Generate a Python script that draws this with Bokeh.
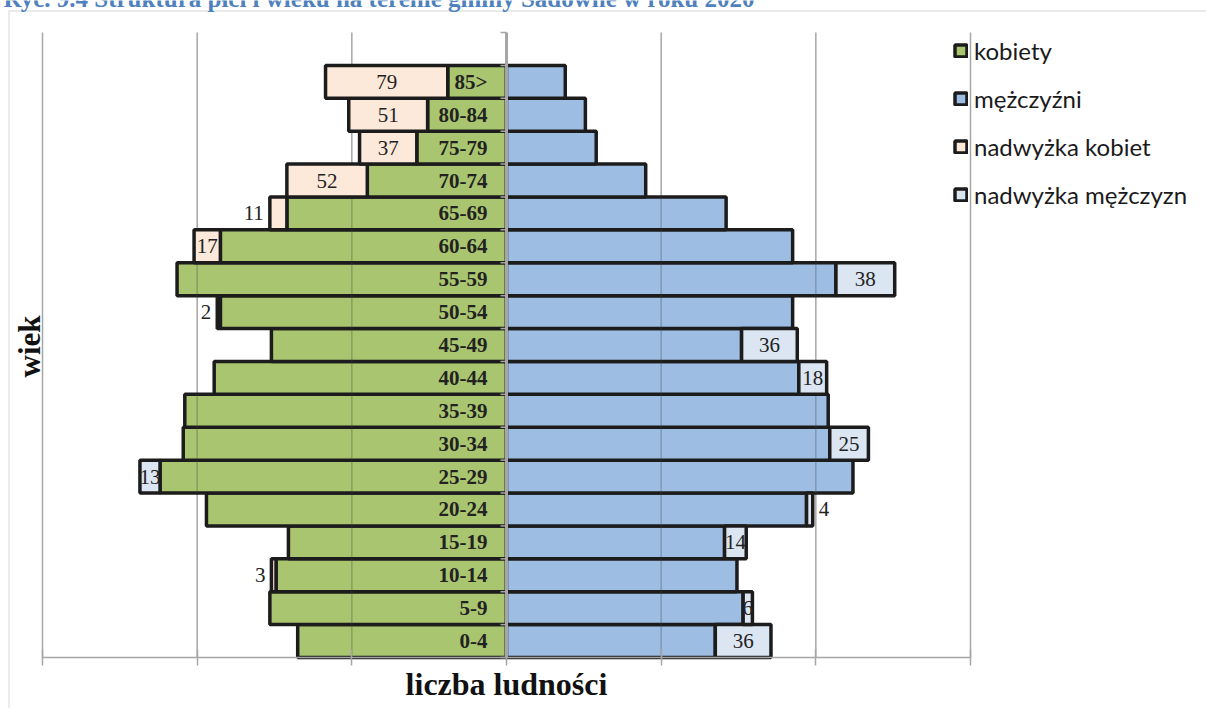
import numpy as np
from bokeh.plotting import figure
from bokeh.models import (Range1d, FixedTicker, Label, Legend, LegendItem, BoxAnnotation, LinearAxis)
from bokeh.core.properties import value
from bokeh.embed import file_html
from bokeh.resources import INLINE

# ---------------- data ----------------
grupy = ["0-4", "5-9", "10-14", "15-19", "20-24", "25-29", "30-34", "35-39", "40-44",
         "45-49", "50-54", "55-59", "60-64", "65-69", "70-74", "75-79", "80-84", "85>"]
kobiety = [135, 153, 149, 141, 194, 224, 209, 208, 189, 152, 185, 213, 185, 142, 90, 58, 51, 38]
mezczyzni = [135, 153, 149, 141, 194, 224, 209, 208, 189, 152, 185, 213, 185, 142, 90, 58, 51, 38]
nadwyzka_kobiet = [0, 0, 3, 0, 0, 0, 0, 0, 0, 0, 2, 0, 17, 11, 52, 37, 51, 79]
nadwyzka_mezczyzn = [36, 6, 0, 14, 4, -13, 25, 0, 18, 36, 0, 38, 0, 0, 0, 0, 0, 0]
osie_x = [-300, -200, -100, 0, 100, 200, 300]

tytul = "Ryc. 9.4 Struktura płci i wieku na terenie gminy Sadowne w roku 2020"
os_x_tytul = "liczba ludności"
os_y_tytul = "wiek"

# ---------------- styles ----------------
C_K = "#a9c56f"
C_M = "#9dbde3"
C_NK = "#fde9d9"
C_NM = "#dce6f2"
BORDER = "#1c1c1c"
GRIDC = "#a6a6a6"
SERIF = "Liberation Serif"

W, H = 1206, 708
FRAME_B = H                          # the fixed-location axis takes no panel space
GL, GR, GT, GB = 42, 970, 32, 657   # plot area (grid box) in canvas px
XMIN, XMAX = -300, 300
YMIN, YMAX = -0.5, 18.5
PXU = (GR - GL) / (XMAX - XMIN)
PYU = (GB - GT) / (YMAX - YMIN)


def px2x(px):
    return XMIN + (px - GL) / PXU


def py2y(py):
    return YMAX - (py - GT) / PYU


p = figure(width=W, height=H,
           x_range=Range1d(px2x(0), px2x(W)), y_range=Range1d(py2y(FRAME_B), py2y(0)),
           min_border_left=0, min_border_right=0, min_border_top=0, min_border_bottom=0,
           output_backend="svg", toolbar_location=None, x_axis_type=None, y_axis_type=None)
p.outline_line_color = None
p.background_fill_color = "white"
p.border_fill_color = "white"
p.xgrid.visible = False
p.ygrid.visible = False

# x axis fixed at the bottom of the plot area (no tick labels)
ax = LinearAxis(ticker=FixedTicker(ticks=osie_x), bounds=(XMIN, XMAX), fixed_location=YMIN,
                axis_line_color=GRIDC, axis_line_width=1.5,
                major_tick_line_color=GRIDC, major_tick_line_width=1.5,
                major_tick_out=8, major_tick_in=8, minor_tick_line_color=None,
                major_label_overrides={t: "" for t in osie_x}, major_label_standoff=0)
p.add_layout(ax, "below")

# outer chart-area border
p.add_layout(BoxAnnotation(left=px2x(8.5), right=px2x(3000), top=py2y(10.5), bottom=py2y(3000),
                           fill_color=None, line_color=GRIDC, line_width=1.5, level="underlay"))

# vertical gridlines of the plot area
p.segment(x0=osie_x, y0=[YMIN] * len(osie_x), x1=osie_x, y1=[YMAX] * len(osie_x),
          line_color=GRIDC, line_width=1.5)

n = len(grupy)
y = np.arange(n)
kob = np.array(kobiety, dtype=float)
mez = np.array(mezczyzni, dtype=float)
nk = np.array(nadwyzka_kobiet, dtype=float)
nm = np.array(nadwyzka_mezczyzn, dtype=float)

bar_kw = dict(height=1.0, line_color=BORDER, line_width=3.5)
r_k = p.hbar(y=y, left=-kob, right=np.zeros(n), fill_color=C_K, **bar_kw)
r_m = p.hbar(y=y, left=np.zeros(n), right=mez, fill_color=C_M, **bar_kw)

# gridline tint showing through the main bars
tx, ty0, ty1 = [], [], []
for i in range(n):
    for g in osie_x:
        if g == 0:
            continue
        if (g < 0 and -g < kob[i]) or (g > 0 and g < mez[i]):
            tx.append(g)
            ty0.append(i - 0.5)
            ty1.append(i + 0.5)
p.segment(x0=tx, y0=ty0, x1=tx, y1=ty1, line_color="#404040", line_alpha=0.3, line_width=1.5)

mk = nk > 0
r_nk = p.hbar(y=y[mk], left=-kob[mk] - nk[mk], right=-kob[mk], fill_color=C_NK, **bar_kw)
mp = nm > 0
r_nm = p.hbar(y=y[mp], left=mez[mp], right=mez[mp] + nm[mp], fill_color=C_NM, **bar_kw)
mn = nm < 0
p.hbar(y=y[mn], left=-kob[mn] - nk[mn] + nm[mn], right=-kob[mn] - nk[mn], fill_color=C_NM, **bar_kw)

# centre (category) axis line with ticks
p.segment(x0=[0], y0=[YMIN], x1=[0], y1=[YMAX], line_color=GRIDC, line_width=3)
p.ray(x=np.zeros(n + 2), y=np.arange(n + 2) - 0.5, length=6, length_units="screen",
      angle=np.pi, line_color=GRIDC, line_width=1.5)

# value labels
lab = {"c": dict(x=[], y=[], t=[]), "l": dict(x=[], y=[], t=[]), "r": dict(x=[], y=[], t=[])}


def add_label(lo, hi, yy, val, side):
    seg_px = (hi - lo) * PXU
    txt = str(int(abs(val)))
    tw = 10.5 * len(txt)
    if tw <= seg_px + 2:
        d = lab["c"]; d["x"].append((lo + hi) / 2)
    elif side == "left":
        d = lab["l"]; d["x"].append(lo)
    else:
        d = lab["r"]; d["x"].append(hi)
    d["y"].append(yy)
    d["t"].append(txt)


for i in range(n):
    if nk[i] > 0:
        add_label(-kob[i] - nk[i], -kob[i], i, nk[i], "left")
    if nm[i] > 0:
        add_label(mez[i], mez[i] + nm[i], i, nm[i], "right")
    if nm[i] < 0:
        add_label(-kob[i] - nk[i] + nm[i], -kob[i] - nk[i], i, nm[i], "left")

txt_kw = dict(text_font=value(SERIF), text_font_size="21px", text_color="#222222",
              text_baseline="middle")
p.text(x=lab["c"]["x"], y=lab["c"]["y"], text=lab["c"]["t"], text_align="center", **txt_kw)
p.text(x=lab["l"]["x"], y=lab["l"]["y"], text=lab["l"]["t"], text_align="right", x_offset=-6, **txt_kw)
p.text(x=lab["r"]["x"], y=lab["r"]["y"], text=lab["r"]["t"], text_align="left", x_offset=6, **txt_kw)

# category labels
p.text(x=np.zeros(n), y=y, text=grupy, x_offset=-19, text_align="right",
       text_baseline="middle", text_font=value(SERIF), text_font_style="bold",
       text_font_size="21px", text_color="#222222")

# titles
p.add_layout(Label(x=px2x(3), y=py2y(-2.5), text=tytul, text_font=SERIF, text_font_style="bold",
                   text_font_size="25px", text_color="#4f81bd", text_align="left",
                   text_baseline="alphabetic"))
p.add_layout(Label(x=px2x(29), y=py2y(346), text=os_y_tytul, angle=np.pi / 2, text_font=SERIF,
                   text_font_style="bold", text_font_size="31px", text_color="#111111",
                   text_align="center", text_baseline="middle"))
p.add_layout(Label(x=0, y=py2y(683), text=os_x_tytul, text_font=SERIF,
                   text_font_style="bold", text_font_size="32px", text_color="#111111",
                   text_align="center", text_baseline="middle"))

# legend (bottom edge anchored just below the last item)
LEG_BOTTOM_PX = 208.5
legend = Legend(items=[LegendItem(label="kobiety", renderers=[r_k]),
                       LegendItem(label="mężczyźni", renderers=[r_m]),
                       LegendItem(label="nadwyżka kobiet", renderers=[r_nk]),
                       LegendItem(label="nadwyżka mężczyzn", renderers=[r_nm])],
                location=(953, FRAME_B - LEG_BOTTOM_PX),
                glyph_width=15, glyph_height=15, label_height=25, spacing=19,
                label_standoff=6, padding=0, margin=0, border_line_color=None,
                background_fill_alpha=0, label_text_font="Lato", label_text_font_size="24px",
                label_text_color="#1a1a1a")
p.add_layout(legend)

open("out.html", "w").write(file_html(p, INLINE))
